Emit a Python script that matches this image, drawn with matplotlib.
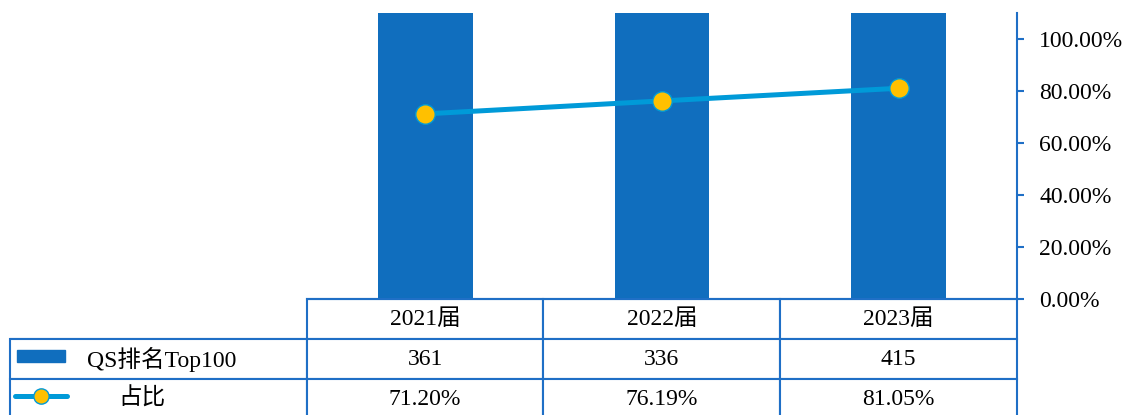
import matplotlib
matplotlib.use('Agg')
import matplotlib.pyplot as plt
from matplotlib.patches import Rectangle
from matplotlib.lines import Line2D
from matplotlib.ticker import PercentFormatter

plt.rcParams['font.family'] = ['Liberation Serif', 'Noto Sans CJK SC']

# data
years = ['2021届', '2022届', '2023届']
top100 = [361, 336, 415]
ratio = [71.20, 76.19, 81.05]
series_names = ['QS排名Top100', '占比']

bar_color = '#106ebe'
line_color = '#009ad8'
dot_color = '#ffc000'
grid_color = '#1f6fc6'
fs = 17

fig = plt.figure(figsize=(11.23, 4.15), dpi=100)
W, H = 1123, 415
ax = fig.add_axes([307 / W, (H - 299) / H, 710 / W, 286 / H])

x = list(range(len(years)))
ax.bar(x, top100, width=0.4, color=bar_color, zorder=2)
ax.set_xlim(-0.5, 2.5)
ax.set_ylim(0, 300)
ax.set_yticks([])
ax.set_xticks([])
for s in ['top', 'left', 'right']:
    ax.spines[s].set_visible(False)
ax.spines['bottom'].set_color(grid_color)
ax.spines['bottom'].set_linewidth(1.5)

ax2 = ax.twinx()
ax2.plot(x, ratio, color=line_color, lw=3.6, marker='o', markersize=14,
         markerfacecolor=dot_color, markeredgecolor=line_color, markeredgewidth=1, zorder=3)
ax2.set_ylim(0, 110)
ax2.set_yticks([0, 20, 40, 60, 80, 100])
ax2.yaxis.set_major_formatter(PercentFormatter(decimals=2))
ax2.tick_params(axis='y', colors=grid_color, labelcolor='black', labelsize=fs,
                length=5, width=1.5, pad=11)
for s in ['top', 'left', 'bottom']:
    ax2.spines[s].set_visible(False)
ax2.spines['right'].set_color(grid_color)
ax2.spines['right'].set_linewidth(1.5)

# data table below
cell_text = [[''] + years,
             [''] + [str(v) for v in top100],
             [''] + ['%.2f%%' % v for v in ratio]]
first_w = 297 / 1007
col_w = 237 / 1007
tbl = ax.table(cellText=cell_text, cellLoc='center',
               colWidths=[first_w, col_w, col_w, col_w],
               bbox=[-297 / 710, -120 / 286, 1007 / 710, 120 / 286])
tbl.auto_set_font_size(False)
for (r, c), cell in tbl.get_celld().items():
    cell.set_edgecolor(grid_color)
    cell.set_linewidth(1.5)
    cell.get_text().set_fontsize(fs)
    if r == 0 and c == 0:
        cell.visible_edges = 'B'

def px(xp, yp):
    return ((xp - 307) / 710, (299 - yp) / 286)

# legend keys inside the table
x0, y0 = px(17, 362)
x1, y1 = px(65, 350)
ax.add_patch(Rectangle((x0, y0), x1 - x0, y1 - y0, transform=ax.transAxes,
                       color=bar_color, clip_on=False))
lx0, ly = px(15, 396)
lx1, _ = px(67, 396)
mx, _ = px(41, 396)
ax.add_line(Line2D([lx0, lx1], [ly, ly], transform=ax.transAxes, color=line_color,
                   lw=3.6, solid_capstyle='round', clip_on=False))
ax.add_line(Line2D([mx], [ly], transform=ax.transAxes, marker='o', markersize=11,
                   markerfacecolor=dot_color, markeredgecolor=line_color, clip_on=False))
tx, ty = px(87, 359)
ax.text(tx, ty, series_names[0], transform=ax.transAxes, fontsize=fs,
        ha='left', va='center')
tx, ty = px(118, 399)
ax.text(tx, ty, series_names[1], transform=ax.transAxes, fontsize=fs,
        ha='left', va='center')

fig.savefig('out.png', dpi=100)
